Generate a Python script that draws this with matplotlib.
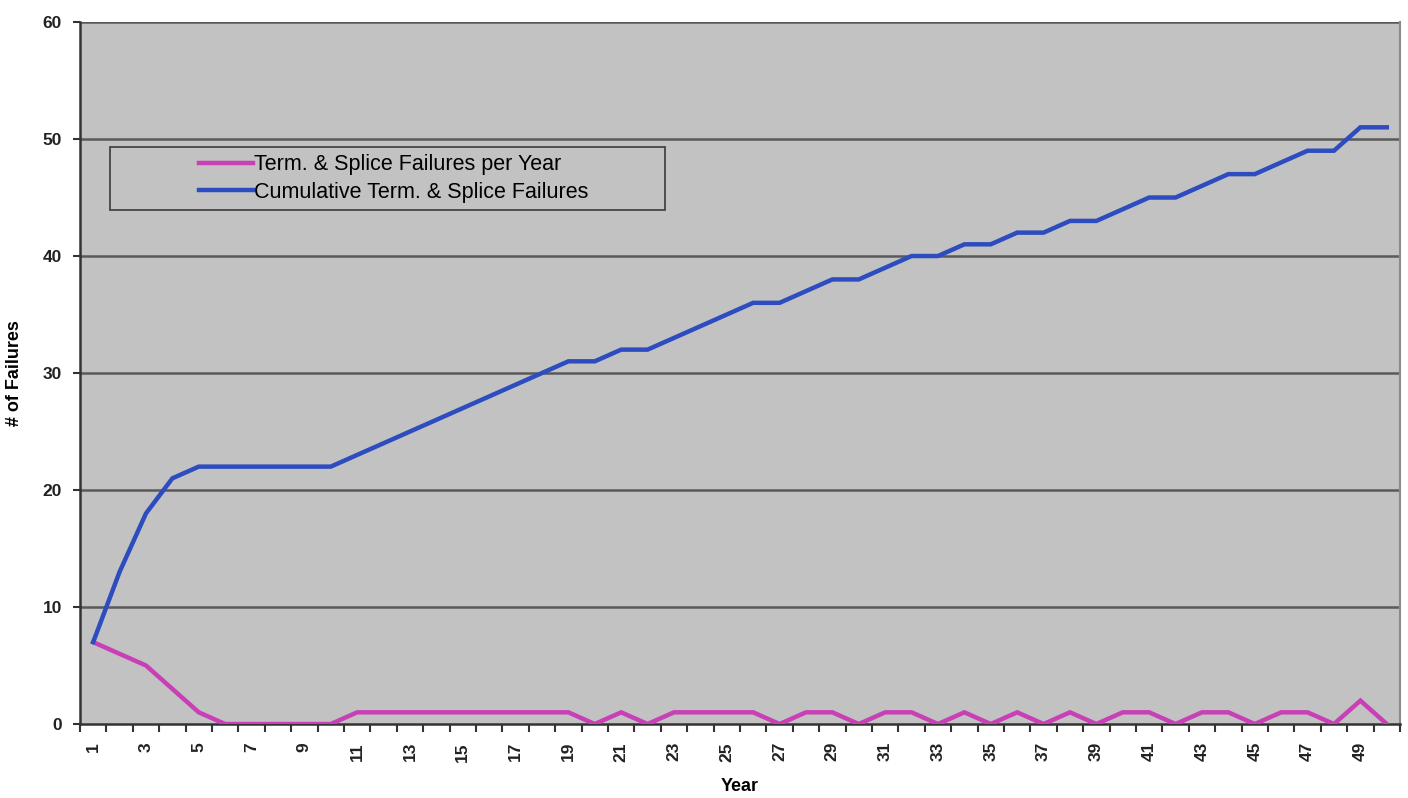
import matplotlib.pyplot as plt
from matplotlib.patches import Rectangle
import numpy as np

plt.rcParams['font.family'] = ['Liberation Sans', 'DejaVu Sans']

years = list(range(1, 51))
per_year = [7, 6, 5, 3, 1, 0, 0, 0, 0, 0,
            1, 1, 1, 1, 1, 1, 1, 1, 1, 0,
            1, 0, 1, 1, 1, 1, 0, 1, 1, 0,
            1, 1, 0, 1, 0, 1, 0, 1, 0, 1,
            1, 0, 1, 1, 0, 1, 1, 0, 2, 0]
cumulative = [7, 13, 18, 21, 22, 22, 22, 22, 22, 22,
              23, 24, 25, 26, 27, 28, 29, 30, 31, 31,
              32, 32, 33, 34, 35, 36, 36, 37, 38, 38,
              39, 40, 40, 41, 41, 42, 42, 43, 43, 44,
              45, 45, 46, 47, 47, 48, 49, 49, 51, 51]
y_ticks = [0, 10, 20, 30, 40, 50, 60]

fig = plt.figure(figsize=(14.08, 7.98), dpi=100)
ax = fig.add_axes([0.0568, 0.0927, 0.9375, 0.8797])
ax.set_facecolor('#c2c2c2')

# horizontal grid lines
for v in y_ticks[1:]:
    ax.axhline(v, color='#5a5a5a', lw=1.8, zorder=1)

ax.plot(years, per_year, color='#c93fb6', lw=3.2, label='Term. & Splice Failures per Year',
        zorder=3, solid_joinstyle='miter')
ax.plot(years, cumulative, color='#2c4cbf', lw=3.2, label='Cumulative Term. & Splice Failures',
        zorder=3, solid_joinstyle='miter')

ax.set_xlim(0.5, 50.5)
ax.set_ylim(0, 60)
ax.set_yticks(y_ticks)
ax.set_xticks(years[::2])
ax.set_xticklabels([str(y) for y in years[::2]], rotation=90)
ax.set_xticks(np.arange(0.5, 51, 1), minor=True)
ax.tick_params(axis='x', which='major', length=0, pad=13, labelsize=12.5)
ax.tick_params(axis='x', which='minor', length=6, width=1.5, color='#333333')
ax.tick_params(axis='y', length=5, width=1.5, color='#333333', labelsize=12.5, pad=8)
for lab in ax.get_xticklabels() + ax.get_yticklabels():
    lab.set_fontweight('bold')
    lab.set_color('#222222')

for side in ['left', 'bottom']:
    ax.spines[side].set_color('#333333')
    ax.spines[side].set_linewidth(1.8)
ax.spines['top'].set_visible(False)
ax.spines['right'].set_color('#8a8a8a')
ax.spines['right'].set_linewidth(1.5)

ax.set_xlabel('Year', fontsize=13, fontweight='bold', va='center')
ax.xaxis.set_label_coords(0.5, -0.0897)
ax.set_ylabel('# of Failures', fontsize=13, fontweight='bold', va='center')
ax.yaxis.set_label_coords(-0.0497, 0.50)

# legend box drawn separately so its entries sit centred inside a wide frame
box_x0, box_x1 = 0.0227, 0.443
box_y0, box_y1 = 0.732, 0.822
ax.add_patch(Rectangle((box_x0, box_y0), box_x1 - box_x0, box_y1 - box_y0,
                       transform=ax.transAxes, facecolor='#c2c2c2',
                       edgecolor='#444444', lw=1.3, zorder=4))
leg = ax.legend(loc='center', bbox_to_anchor=((box_x0 + box_x1) / 2 + 0.005, (box_y0 + box_y1) / 2),
                fontsize=15.5, frameon=False, handlelength=2.5, handletextpad=0.05,
                borderpad=0, labelspacing=0.3)
leg.set_zorder(5)
leg._legend_box.align = 'left'

fig.savefig('out.png', dpi=100)
